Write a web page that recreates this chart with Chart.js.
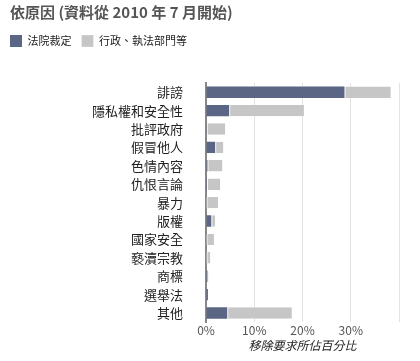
<!DOCTYPE html>
<html>
<head>
<meta charset="utf-8">
<script src="https://cdn.jsdelivr.net/npm/chart.js@4"></script>
<style>
  html, body { margin: 0; padding: 0; background: #fff; }
  #wrap { width: 420px; height: 361px; }
</style>
</head>
<body>
<div id="wrap"><canvas id="reasonChart"></canvas></div>
<script>
const reasons = ['誹謗', '隱私權和安全性', '批評政府', '假冒他人', '色情內容', '仇恨言論', '暴力', '版權', '國家安全', '褻瀆宗教', '商標', '選舉法', '其他'];
const courtOrders = [28.7, 4.8, 0.15, 1.9, 0.3, 0.2, 0.1, 1.1, 0.1, 0.1, 0.3, 0.4, 4.4];
const executivePolice = [9.6, 15.5, 3.85, 1.7, 3.1, 2.75, 2.4, 0.8, 1.55, 0.8, 0.2, 0, 13.4];
const tickValues = [0, 10, 20, 30];

const font = "'Noto Sans CJK TC', 'Noto Sans', sans-serif";
Chart.defaults.font.family = font;
Chart.defaults.color = '#222';

// push the plot down below the legend and line the legend up with the title
const legendTweak = {
    id: 'legendTweak',
    beforeInit(chart) {
        const fit = chart.legend.fit;
        chart.legend.fit = function () {
            fit.call(this);
            this.height += 26;
        };
    },
    afterLayout(chart) {
        chart.legend.left -= 10;
    }
};

const reasonContext = document.getElementById('reasonChart');

new Chart(reasonContext, {
    type: 'bar',
    data: {
        labels: reasons,
        datasets: [{
            label: '法院裁定',
            data: courtOrders,
            backgroundColor: '#5b6584',
            borderWidth: 0,
            barPercentage: 0.62,
            categoryPercentage: 1
        }, {
            label: '行政、執法部門等',
            data: executivePolice,
            backgroundColor: '#c6c6c6',
            borderColor: '#fff',
            borderWidth: { left: 1 },
            borderSkipped: false,
            barPercentage: 0.62,
            categoryPercentage: 1
        }]
    },
    options: {
        indexAxis: 'y',
        responsive: true,
        maintainAspectRatio: false,
        animation: false,
        layout: { padding: { left: 10, right: 21, bottom: 8 } },
        plugins: {
            title: {
                display: true,
                text: '依原因 (資料從 2010 年 7 月開始)',
                align: 'start',
                color: '#555',
                font: { size: 15, weight: 'bold' },
                padding: { top: 3, bottom: 4 }
            },
            legend: {
                align: 'start',
                labels: {
                    boxWidth: 12,
                    boxHeight: 12,
                    padding: 10,
                    color: '#222',
                    font: { size: 11 }
                }
            },
            tooltip: { enabled: false }
        },
        scales: {
            x: {
                stacked: true,
                min: 0,
                max: 40,
                afterBuildTicks: axis => {
                    axis.ticks = tickValues.concat([40]).map(v => ({ value: v }));
                },
                ticks: {
                    color: '#555',
                    font: { size: 12 },
                    padding: 1,
                    callback: v => tickValues.includes(v) ? v + '%' : ''
                },
                grid: { color: '#e3e3e3', drawTicks: false },
                border: { display: false },
                title: {
                    display: true,
                    text: '移除要求所佔百分比',
                    color: '#222',
                    font: { size: 12, style: 'italic' },
                    padding: 0
                }
            },
            y: {
                stacked: true,
                afterFit: axis => { axis.width = 196; },
                grid: { display: false },
                border: { color: '#888', width: 2 },
                ticks: {
                    autoSkip: false,
                    color: '#222',
                    font: { size: 13 },
                    padding: 15
                }
            }
        }
    },
    plugins: [legendTweak]
});
</script>
</body>
</html>
